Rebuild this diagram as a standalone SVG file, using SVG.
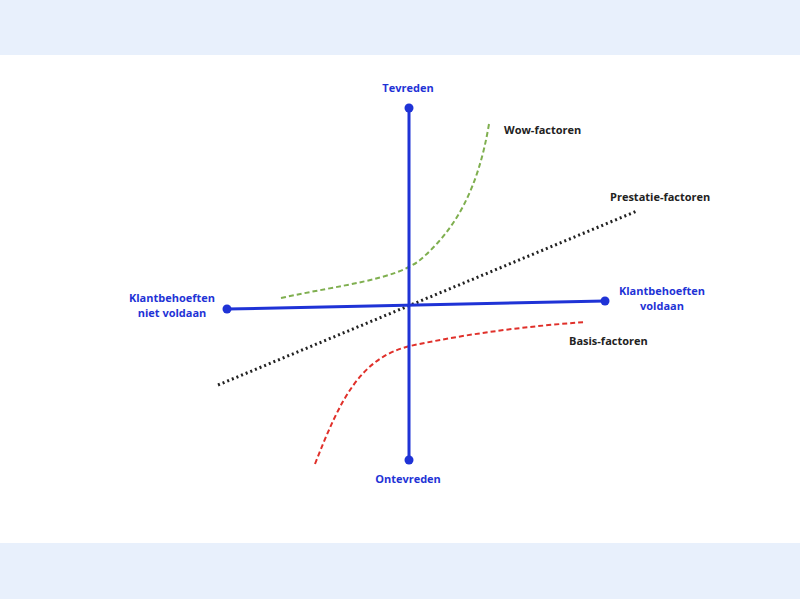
<svg xmlns="http://www.w3.org/2000/svg" width="800" height="599" viewBox="0 0 800 599">
<style>
.ax{stroke:#1f33d6;stroke-width:3;fill:none}
.dot{fill:#1f33d6}
.lb{font-family:"Open Sans","Liberation Sans",sans-serif;font-weight:bold;font-size:11px;fill:#1f33d6;text-anchor:middle}
.cl{font-family:"Open Sans","Liberation Sans",sans-serif;font-weight:bold;font-size:11px;fill:#222}
</style>
<rect width="800" height="599" fill="#ffffff"/>
<rect width="800" height="55" fill="#e8f0fc"/>
<rect y="543" width="800" height="56" fill="#e8f0fc"/>
<g id="connectors">
<path d="M218,385 L637,211" stroke="#222" stroke-width="3" stroke-dasharray="2,3" fill="none"/>
<path d="M281,298 C340,285 395,280 420,260 C455,230 478,190 489,124" stroke="#7faf4f" stroke-width="2" stroke-dasharray="5,3" fill="none"/>
<path d="M315,464 C340,400 360,358 410,346 C470,333 530,326 586,322" stroke="#e0302a" stroke-width="2" stroke-dasharray="5,3" fill="none"/>
</g>
<g id="axis-v"><line class="ax" x1="409" y1="108" x2="409" y2="460"/><circle class="dot" cx="409" cy="108" r="4.5"/><circle class="dot" cx="409" cy="460" r="4.5"/></g>
<g id="axis-h"><line class="ax" x1="227" y1="309" x2="605" y2="301"/><circle class="dot" cx="227" cy="309" r="4.5"/><circle class="dot" cx="605" cy="301" r="4.5"/></g>
<g id="tevreden"><text class="lb" x="408" y="92">Tevreden</text></g>
<g id="ontevreden"><text class="lb" x="408" y="483">Ontevreden</text></g>
<g id="links"><text class="lb" x="172" y="302">Klantbehoeften</text><text class="lb" x="172" y="317">niet voldaan</text></g>
<g id="rechts"><text class="lb" x="662" y="295">Klantbehoeften</text><text class="lb" x="662" y="310">voldaan</text></g>
<g id="wow"><text class="cl" x="504" y="134">Wow-factoren</text></g>
<g id="prestatie"><text class="cl" x="610" y="201">Prestatie-factoren</text></g>
<g id="basis"><text class="cl" x="569" y="345">Basis-factoren</text></g>
</svg>
